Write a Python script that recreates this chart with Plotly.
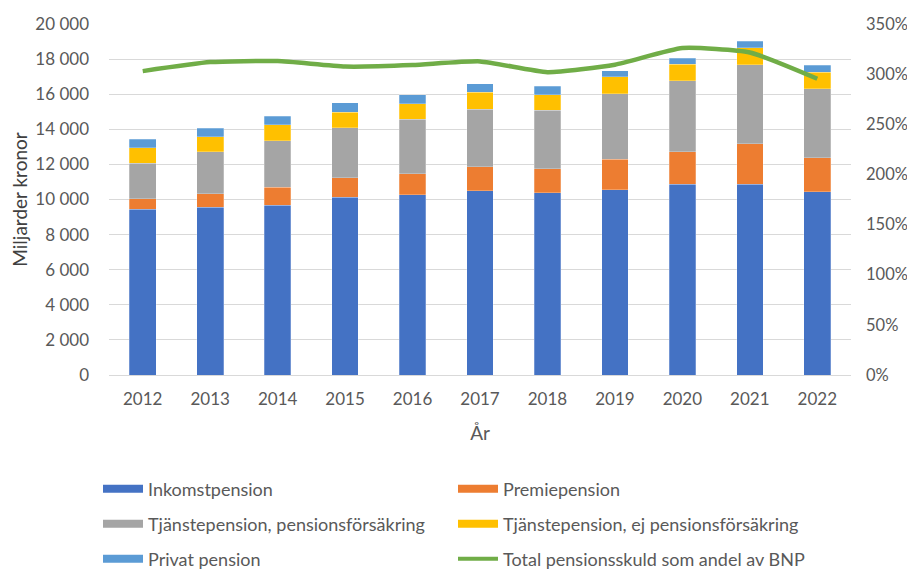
import plotly.graph_objects as go
from plotly.subplots import make_subplots

years = ["2012", "2013", "2014", "2015", "2016", "2017", "2018", "2019", "2020", "2021", "2022"]
inkomstpension = [9440, 9550, 9670, 10140, 10270, 10500, 10390, 10560, 10870, 10870, 10450]
premiepension = [590, 780, 1030, 1110, 1190, 1370, 1370, 1730, 1840, 2310, 1920]
tjp_forsakring = [2050, 2380, 2660, 2830, 3100, 3280, 3330, 3750, 4050, 4510, 3950]
tjp_ej_forsakring = [880, 870, 890, 900, 890, 950, 890, 950, 960, 960, 920]
privat_pension = [470, 480, 480, 530, 530, 490, 480, 360, 320, 360, 420]
andel_bnp = [3.03, 3.12, 3.13, 3.076, 3.09, 3.127, 3.02, 3.094, 3.26, 3.216, 2.954]

bar_series = [
    ("Inkomstpension", inkomstpension, "#4472C4"),
    ("Premiepension", premiepension, "#ED7D31"),
    ("Tjänstepension, pensionsförsäkring", tjp_forsakring, "#A5A5A5"),
    ("Tjänstepension, ej pensionsförsäkring", tjp_ej_forsakring, "#FFC000"),
    ("Privat pension", privat_pension, "#5B9BD5"),
]
line_name = "Total pensionsskuld som andel av BNP"
line_color = "#70AD47"

FONT = "Lato"
TXT = "#595959"

fig = make_subplots(specs=[[{"secondary_y": True}]])

for name, vals, col in bar_series:
    fig.add_trace(go.Bar(x=years, y=vals, name=name,
                         marker=dict(color=col, line=dict(color="rgba(255,255,255,0.5)", width=0.5)),
                         showlegend=False), secondary_y=False)

fig.add_trace(go.Scatter(x=years, y=andel_bnp, name=line_name, mode="lines",
                         line=dict(color=line_color, width=4.5, shape="spline", smoothing=0.5),
                         showlegend=False), secondary_y=True)

# legend entries (three rows, two columns)
legend_items = [(n, c) for n, _, c in bar_series] + [(line_name, line_color)]
legend_names = ["legend", "legend", "legend2", "legend2", "legend3", "legend3"]
for (name, col), lg in zip(legend_items, legend_names):
    w = 4 if name == line_name else 8
    fig.add_trace(go.Scatter(x=[None], y=[None], mode="lines", name=name,
                             line=dict(color=col, width=w), legend=lg, showlegend=True),
                  secondary_y=False)

W, H = 915, 570
leg_common = dict(orientation="h", x=90 / W, xref="container", xanchor="left",
                  yref="container", yanchor="middle",
                  font=dict(family=FONT, size=18, color=TXT), entrywidth=300,
                  entrywidthmode="pixels", bgcolor="rgba(0,0,0,0)", itemwidth=40,
                  traceorder="normal")

def ypos(py):
    return 1 - py / H

fig.update_layout(
    width=W, height=H,
    margin=dict(l=101, r=72, t=16, b=203, autoexpand=False),
    paper_bgcolor="white", plot_bgcolor="white",
    barmode="stack", bargap=0.605,
    separators=", ",
    font=dict(family=FONT, size=17, color=TXT),
    legend=dict(**leg_common, y=ypos(481)),
    legend2=dict(**leg_common, y=ypos(516)),
    legend3=dict(**leg_common, y=ypos(551)),
)

fig.update_xaxes(type="category", domain=[0, 1], showgrid=False, showline=True, linecolor="#D9D9D9",
                 linewidth=1, tickfont=dict(family=FONT, size=17, color=TXT), ticks="", automargin=False,
                 ticklabelstandoff=9,
                 title=dict(text="År", font=dict(family=FONT, size=19, color=TXT), standoff=18))
fig.update_yaxes(range=[0, 20000], dtick=2000, tickformat=",d", showgrid=True, gridcolor="#D9D9D9",
                 gridwidth=1, zeroline=False, showline=False, automargin=False,
                 tickfont=dict(family=FONT, size=17, color=TXT), ticklabelstandoff=19,
                 title=dict(text="Miljarder kronor", font=dict(family=FONT, size=19, color="#404040"), standoff=8),
                 secondary_y=False)
fig.update_yaxes(range=[0, 3.5], dtick=0.5, tickformat=".0%", showgrid=False, zeroline=False, showline=False,
                 automargin=False,
                 tickfont=dict(family=FONT, size=16.5, color=TXT), ticklabelstandoff=14,
                 secondary_y=True)

fig.write_html("out.html")
